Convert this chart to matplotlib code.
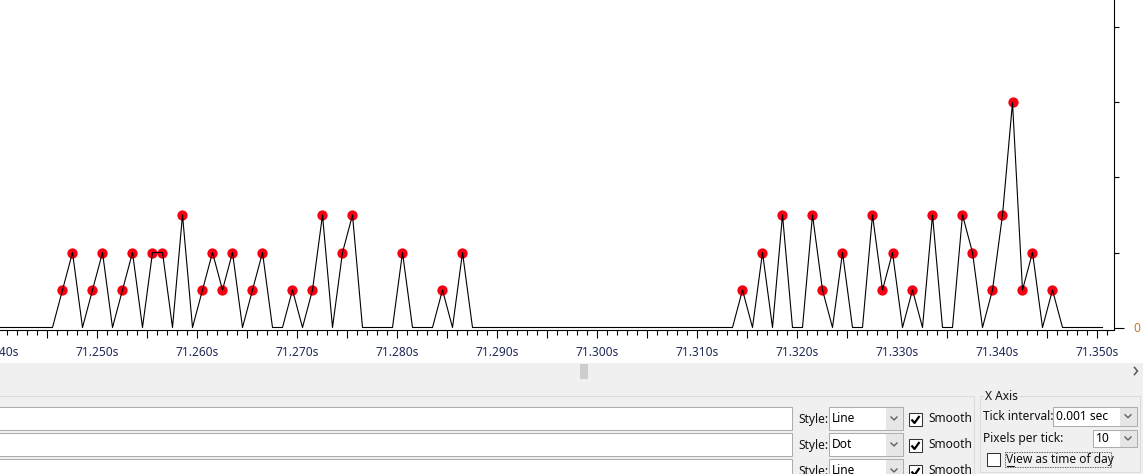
import numpy as np
import matplotlib
matplotlib.use("Agg")
import matplotlib.pyplot as plt
from matplotlib.patches import Rectangle
from matplotlib.ticker import FixedLocator, FuncFormatter

plt.rcParams['font.family'] = ['Noto Sans', 'DejaVu Sans']

# packets per 1 ms bin, first bin starts at 71.239 s
t0 = 71.239
interval = 0.001
counts = [0, 0, 0, 0, 0, 0, 0, 1, 2, 0,   # 71.239 - 71.248
          1, 2, 0, 1, 2, 0, 2, 2, 0, 3,   # 71.249 - 71.258
          0, 1, 2, 1, 2, 0, 1, 2, 0, 0,   # 71.259 - 71.268
          1, 0, 1, 3, 0, 2, 3, 0, 0, 0,   # 71.269 - 71.278
          0, 2, 0, 0, 0, 1, 0, 2, 0, 0,   # 71.279 - 71.288
          0, 0, 0, 0, 0, 0, 0, 0, 0, 0,   # 71.289 - 71.298
          0, 0, 0, 0, 0, 0, 0, 0, 0, 0,   # 71.299 - 71.308
          0, 0, 0, 0, 0, 1, 0, 2, 0, 3,   # 71.309 - 71.318
          0, 0, 3, 1, 0, 2, 0, 0, 3, 1,   # 71.319 - 71.328
          2, 0, 1, 0, 3, 0, 0, 3, 2, 0,   # 71.329 - 71.338
          1, 3, 6, 1, 2, 0, 1, 0, 0, 0,   # 71.339 - 71.348
          0, 0]                           # 71.349 - 71.350

x_labels_every = 10  # ms
y_ticks = [0, 2, 4, 6, 8]

W, H = 1143, 474
fig = plt.figure(figsize=(W / 100, H / 100), dpi=100, facecolor='white')

# ---------- window chrome (pixel coords) ----------
ui = fig.add_axes([0, 0, 1, 1], zorder=0)
ui.set_xlim(0, W)
ui.set_ylim(H, 0)
ui.axis('off')


def box(x0, y0, x1, y1, fc='white', ec='#adadad', lw=0.75, z=1):
    ui.add_patch(Rectangle((x0, y0), x1 - x0, y1 - y0, facecolor=fc,
                           edgecolor=ec, lw=lw, zorder=z))


def chevron(xc, yc, z=3):
    ui.plot([xc - 3, xc, xc + 3], [yc - 1.5, yc + 1.5, yc - 1.5],
            color='#606060', lw=1.0, zorder=z)


def combo(x0, y0, x1, y1, text):
    box(x0, y0, x1, y1)
    box(x1 - 17, y0 + 1, x1 - 1, y1 - 1, fc='#e6e6e6', ec='#e6e6e6', z=2)
    chevron(x1 - 9, (y0 + y1) / 2)
    ui.text(x0 + 3, (y0 + y1) / 2, text, fontsize=8.6, va='center', zorder=3)


def checkbox(x0, y0, checked):
    box(x0, y0, x0 + 13, y0 + 13, ec='#333333')
    if checked:
        ui.plot([x0 + 2.5, x0 + 5.5, x0 + 10.5], [y0 + 6.5, y0 + 10, y0 + 3],
                color='black', lw=1.6, zorder=3, solid_capstyle='butt')


ui_text = dict(fontsize=8.6, va='center', color='#111111', zorder=3)

box(0, 363, W, H, fc='#f0f0f0', ec='none', z=0)
# scrollbar
box(580, 364, 588, 379, fc='#cdcdcd', ec='none')
ui.plot([1134.5, 1137.5, 1134.5], [367.5, 371, 374.5], color='#606060', lw=1.2)

# left group box with series rows
ui.plot([-1, 974, 974], [396, 396, H + 1], color='#dcdcdc', lw=0.75, zorder=1)
for y0 in [407, 433, 459]:
    box(-2, y0, 792, y0 + 22.5)
    ui.text(798, y0 + 12, 'Style:', **ui_text)
    combo(829, y0, 903, y0 + 23, 'Dot' if y0 == 433 else 'Line')
    checkbox(909, y0 + 6, True)
    ui.text(928, y0 + 12, 'Smooth', **ui_text)

# X Axis group box
ui.plot([983, 980, 980, 1140, 1140, 1007], [396, 396, 472, 472, 396, 396],
        color='#dcdcdc', lw=0.75, zorder=1)
ui.text(985, 396, 'X Axis', **ui_text)
ui.text(983, 416, 'Tick interval:', **ui_text)
combo(1053, 407, 1137, 425.5, '0.001 sec')
ui.text(983, 438.5, 'Pixels per tick:', **ui_text)
combo(1093, 430, 1137, 447, '10')
checkbox(987, 453, False)
ui.text(1006, 459.5, 'View as time of day', **ui_text)
ui.plot([1006.5, 1014], [466, 466], color='#111111', lw=0.75, zorder=3)
ui.add_patch(Rectangle((1004.5, 451.5), 106, 15.5, facecolor='none',
                       edgecolor='#333333', lw=0.6, ls=(0, (1, 1)), zorder=3))

# ---------- graph ----------
left_px, right_px, bottom_px = -20, 1114, 329.5
ax = fig.add_axes([left_px / W, (H - bottom_px) / H,
                   (right_px - left_px) / W, bottom_px / H], zorder=1)
ax.set_facecolor('none')

counts = np.array(counts)
times = t0 + interval * (np.arange(len(counts)) + 0.5)
nz = counts > 0

ax.plot(times[nz], counts[nz], 'o', color='#f60014', ms=7.4, mec='none',
        zorder=2, clip_on=False)
ax.plot(times, counts, color='black', lw=0.8, zorder=3)

px = 0.0001  # seconds per pixel
x_start = 71.24025 + left_px * px
ax.set_xlim(x_start, x_start + (right_px - left_px) * px)
ax.set_ylim(-(bottom_px - 327.5) / 37.5, 327.5 / 37.5)

for s in ['top', 'left']:
    ax.spines[s].set_visible(False)
ax.spines['bottom'].set_linewidth(0.8)
ax.spines['right'].set_linewidth(0.8)

major_x = [71.235 + 0.005 * k for k in range(25)]
minor_x = [71.235 + 0.001 * k for k in range(120)]
ax.xaxis.set_major_locator(FixedLocator(major_x))
ax.xaxis.set_minor_locator(FixedLocator(minor_x))


def xfmt(v, pos):
    ms = int(round(v * 1000))
    return f'{v:.3f}s' if ms % x_labels_every == 0 else ''


ax.xaxis.set_major_formatter(FuncFormatter(xfmt))
ax.tick_params(axis='x', which='major', length=5.8, width=0.8, direction='out',
               pad=6.2, labelsize=8.6, labelcolor='#1f2a55')
ax.tick_params(axis='x', which='minor', length=3.6, width=0.8, direction='out')

ax.yaxis.tick_right()
ax.yaxis.set_major_locator(FixedLocator([0]))
ax.yaxis.set_minor_locator(FixedLocator(y_ticks[1:]))
ax.yaxis.set_major_formatter(FuncFormatter(lambda v, p: '0'))
ax.tick_params(axis='y', which='major', length=7.2, width=0.8, direction='out',
               pad=6.5, labelsize=8.6, labelcolor='#c8782c')
ax.tick_params(axis='y', which='minor', length=3.6, width=0.8, direction='out')

fig.savefig('out.png', dpi=100, facecolor='white')
